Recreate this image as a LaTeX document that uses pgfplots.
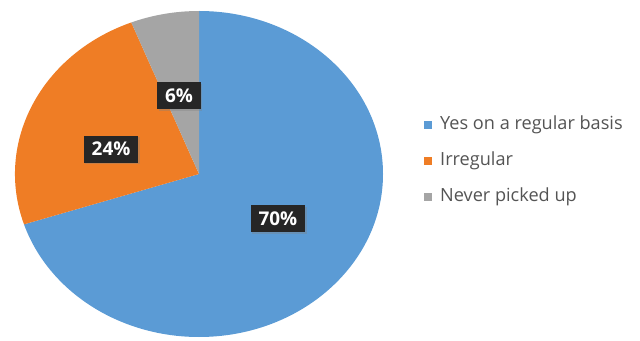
\documentclass[border=0pt]{standalone}
\usepackage{fontspec}
\setmainfont{Open Sans}
\usepackage{pgfplots}
\pgfplotsset{compat=1.18}
\usepackage{pgfplotstable}
\usetikzlibrary{shadows}
\definecolor{cblue}{HTML}{5B9BD5}
\definecolor{corange}{HTML}{EF7D25}
\definecolor{cgray}{HTML}{A5A5A5}
\definecolor{ctext}{HTML}{545454}
\definecolor{cbox}{HTML}{262626}

\pgfplotstableread{
value lx ly
70 0.429 -0.276
24 -0.478 0.153
6 -0.109 0.479
}\piedata

\begin{document}
\begin{tikzpicture}
\pgfplotstablegetelem{0}{value}\of\piedata \let\va\pgfplotsretval
\pgfplotstablegetelem{1}{value}\of\piedata \let\vb\pgfplotsretval
\pgfplotstablegetelem{2}{value}\of\piedata \let\vc\pgfplotsretval
\pgfmathsetmacro{\aA}{90}
\pgfmathsetmacro{\aB}{90-3.6*\va}
\pgfmathsetmacro{\aC}{\aB-3.6*\vb}
\pgfmathsetmacro{\aD}{\aC-3.6*\vc}
\useasboundingbox (0,0) rectangle (640bp,341bp);
\begin{axis}[
  at={(0,0)}, anchor=south west,
  scale only axis, hide axis, clip=false,
  x=184bp, y=163bp,
  xmin=-1.08152, xmax=2.39674,
  ymin=-1.02454, ymax=1.06748,
]
\fill[cblue] (axis cs:0,0) -- (axis cs:{cos(\aA)},{sin(\aA)})
  arc[start angle=\aA, end angle=\aB, x radius=184bp, y radius=163bp] -- cycle;
\fill[corange] (axis cs:0,0) -- (axis cs:{cos(\aB)},{sin(\aB)})
  arc[start angle=\aB, end angle=\aC, x radius=184bp, y radius=163bp] -- cycle;
\fill[cgray] (axis cs:0,0) -- (axis cs:{cos(\aC)},{sin(\aC)})
  arc[start angle=\aC, end angle=\aD, x radius=184bp, y radius=163bp] -- cycle;

\tikzset{lbl/.style={fill=cbox, text=white, font=\bfseries\fontsize{19}{19}\selectfont,
  inner xsep=8bp, inner ysep=0pt, minimum height=27bp,
  drop shadow={opacity=0.35, shadow xshift=1.5bp, shadow yshift=-1.5bp}}}
\node[lbl] at (axis cs:0.429,-0.276) {70\%};
\node[lbl] at (axis cs:-0.478,0.153) {24\%};
\node[lbl] at (axis cs:-0.109,0.479) {6\%};

\tikzset{leg/.style={anchor=base west, inner sep=0pt, text=ctext, font=\fontsize{18.2}{18.2}\selectfont}}
\fill[cblue] (axis cs:1.2201,0.276) rectangle ++(8bp,8bp);
\node[leg] at (axis cs:1.3098,0.276) {Yes on a regular basis};
\fill[corange] (axis cs:1.2201,0.055) rectangle ++(8bp,8bp);
\node[leg] at (axis cs:1.3098,0.055) {Irregular};
\fill[cgray] (axis cs:1.2201,-0.166) rectangle ++(8bp,8bp);
\node[leg] at (axis cs:1.3098,-0.166) {Never picked up};
\end{axis}
\end{tikzpicture}
\end{document}
